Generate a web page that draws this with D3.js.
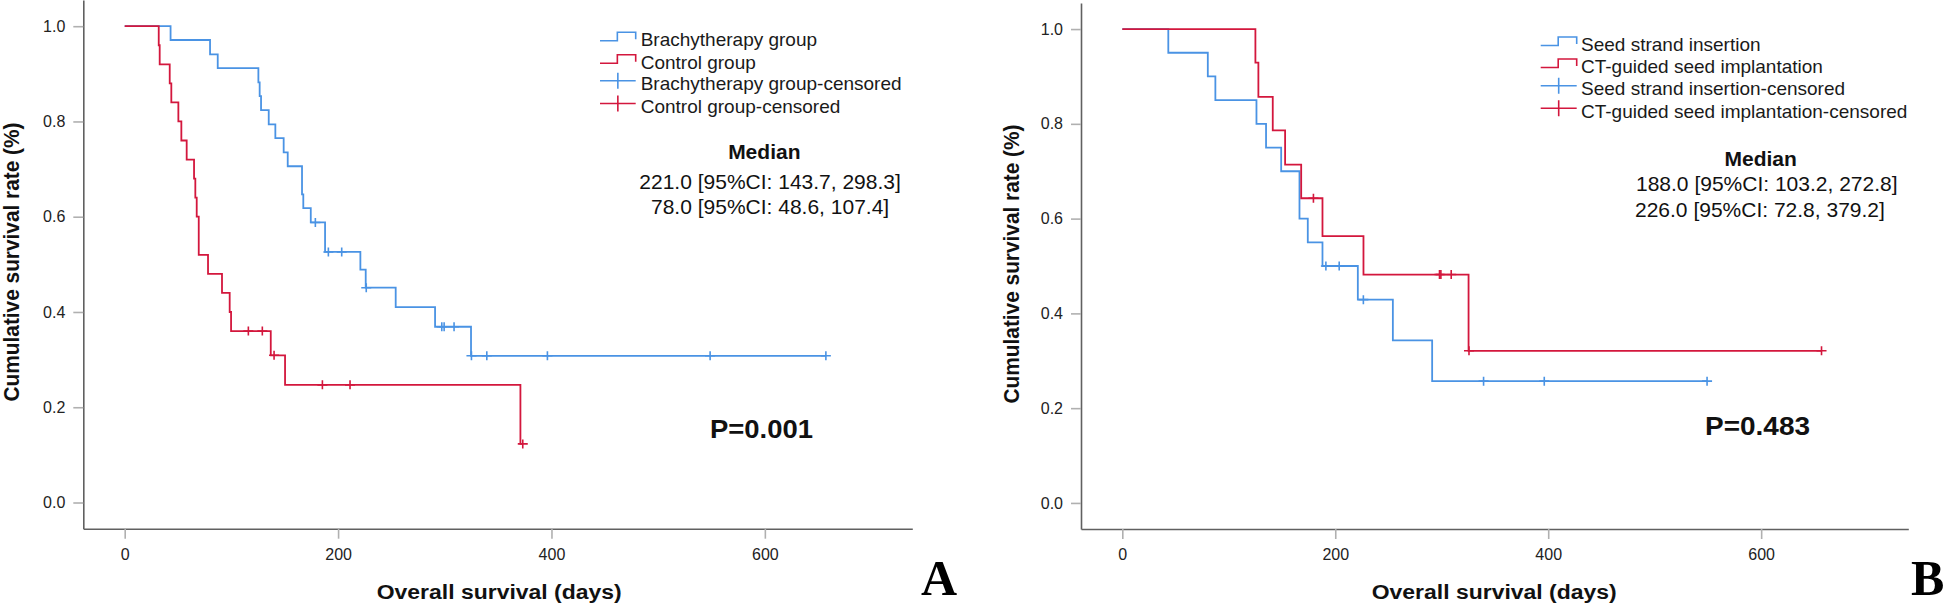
<!DOCTYPE html>
<html>
<head>
<meta charset="utf-8">
<script src="https://cdn.jsdelivr.net/npm/d3@7"></script>
<style>
  body { margin: 0; background: #fff; }
  svg { display: block; font-family: "Liberation Sans", Arial, sans-serif; }
</style>
</head>
<body>
<div id="chart"></div>
<script>
// Tick values
const xTicks = [0, 200, 400, 600];
const yTicks = [0, 0.2, 0.4, 0.6, 0.8, 1.0];

// Panel A: event times (days) and survival after each drop
const brachyTimes = [43, 80, 87.2, 125.3, 126.5, 127.8, 135, 141.2, 149, 152.8, 166.2, 167.4, 174.4, 187.8, 220.9, 225.9, 254, 290.9, 324.6];
const brachySurv = [0.971, 0.941, 0.912, 0.882, 0.853, 0.824, 0.794, 0.765, 0.735, 0.706, 0.647, 0.618, 0.588, 0.526, 0.489, 0.451, 0.410, 0.369, 0.308];
const brachyCensored = [178.7, 190.9, 203.4, 226.4, 297.2, 299.4, 308.7, 325, 339.4, 396.2, 548.7, 657.2];

const controlTimes = [31.9, 32.8, 42.2, 43.7, 50.3, 53.1, 58.1, 65, 66.2, 67.5, 69.4, 78.1, 91.2, 98.4, 99.7, 136.9, 150.3, 370.9];
const controlSurv = [0.96, 0.92, 0.88, 0.84, 0.80, 0.76, 0.72, 0.68, 0.64, 0.60, 0.52, 0.48, 0.44, 0.40, 0.36, 0.309, 0.247, 0.123];
const controlCensored = [115.9, 129, 140, 185.3, 211.2, 373.1];

// Panel B
const seedTimes = [43.2, 80.3, 87.4, 126, 135, 149.2, 166.4, 174.2, 188, 221.2, 254.1, 291];
const seedSurv = [0.95, 0.90, 0.85, 0.80, 0.75, 0.70, 0.60, 0.55, 0.50, 0.429, 0.343, 0.257];
const seedCensored = [191.2, 203.7, 226.4, 339.3, 396.3, 549.2];

const ctTimes = [125, 127.8, 141.3, 152.9, 168, 188, 226.5, 325.2];
const ctSurv = [0.929, 0.857, 0.786, 0.714, 0.643, 0.563, 0.482, 0.321];
const ctCensored = [179.5, 297.9, 299.2, 308.9, 325.6, 656.7];

const blue = "#4a93e4";
const red = "#d3173d";

const svg = d3.select("#chart")
    .append("svg")
    .attr("width", 1944)
    .attr("height", 606);

const panels = [
    {
        left: 83.3, right: 912.3, top: 0, bottom: 528.7,
        series: [
            { name: "Brachytherapy group", times: brachyTimes, surv: brachySurv, cens: brachyCensored, color: blue },
            { name: "Control group", times: controlTimes, surv: controlSurv, cens: controlCensored, color: red }
        ],
        legend: { x0: 600, x1: 635.7, tx: 640.7, rows: [39.3, 61.7, 83.3, 106] },
        medianTitle: { x: 764.3, y: 158.5 },
        medianLines: [
            { text: "221.0 [95%CI: 143.7, 298.3]", x: 639.3, y: 188.5 },
            { text: "78.0 [95%CI: 48.6, 107.4]", x: 651, y: 213.5 }
        ],
        p: { text: "P=0.001", x: 710, y: 438.3, len: 103 },
        xLabel: { x: 376.7, y: 599.3 },
        yLabel: { x: 19, y: 262 },
        letter: { text: "A", x: 921, y: 595 }
    },
    {
        left: 1081, right: 1908.3, top: 3, bottom: 529,
        series: [
            { name: "Seed strand insertion", times: seedTimes, surv: seedSurv, cens: seedCensored, color: blue },
            { name: "CT-guided seed implantation", times: ctTimes, surv: ctSurv, cens: ctCensored, color: red }
        ],
        legend: { x0: 1540.7, x1: 1576.7, tx: 1581, rows: [44, 66, 88.3, 110.7] },
        medianTitle: { x: 1760.7, y: 165.8 },
        medianLines: [
            { text: "188.0 [95%CI: 103.2, 272.8]", x: 1636, y: 190.8 },
            { text: "226.0 [95%CI: 72.8, 379.2]", x: 1635, y: 216.8 }
        ],
        p: { text: "P=0.483", x: 1705, y: 435, len: 105 },
        xLabel: { x: 1371.7, y: 599.3 },
        yLabel: { x: 1019, y: 264 },
        letter: { text: "B", x: 1911, y: 595 }
    }
];

panels.forEach(p => {
    const g = svg.append("g");

    const x = d3.scaleLinear().domain([-38.8, 738.2]).range([p.left, p.right]);
    const y = d3.scaleLinear().domain([-0.055, 1.055]).range([p.bottom, p.top]);

    // Axes
    const yAxis = g.append("g")
        .attr("transform", `translate(${p.left},0)`)
        .call(d3.axisLeft(y).tickValues(yTicks).tickFormat(d3.format(".1f")).tickSize(10).tickSizeOuter(0).tickPadding(8));
    const xAxis = g.append("g")
        .attr("transform", `translate(0,${p.bottom})`)
        .call(d3.axisBottom(x).tickValues(xTicks).tickSize(10).tickSizeOuter(0).tickPadding(9.5));
    [xAxis, yAxis].forEach(a => {
        a.attr("font-family", "Liberation Sans, Arial, sans-serif").attr("font-size", 16);
        a.select(".domain").attr("stroke", "#606060").attr("stroke-width", 1.6);
        a.selectAll(".tick line").attr("stroke", "#b0b0b0").attr("stroke-width", 1.6);
        a.selectAll(".tick text").attr("fill", "#222");
    });

    const step = d3.line()
        .x(d => x(d[0]))
        .y(d => y(d[1]))
        .curve(d3.curveStepAfter);

    p.series.forEach(s => {
        const pts = [[0, 1]];
        s.times.forEach((t, i) => pts.push([t, s.surv[i]]));
        const lastT = d3.max(s.cens.concat(s.times));
        pts.push([lastT, s.surv[s.surv.length - 1]]);

        g.append("path")
            .attr("d", step(pts))
            .attr("fill", "none")
            .attr("stroke", s.color)
            .attr("stroke-width", 1.8);

        const survAt = t => {
            let v = 1;
            s.times.forEach((tt, i) => { if (tt <= t) v = s.surv[i]; });
            return v;
        };

        // Censor marks
        g.selectAll(null)
            .data(s.cens)
            .enter()
            .append("path")
            .attr("d", d => `M${x(d) - 5},${y(survAt(d))}H${x(d) + 5}M${x(d)},${y(survAt(d)) - 4.5}V${y(survAt(d)) + 4.5}`)
            .attr("fill", "none")
            .attr("stroke", s.color)
            .attr("stroke-width", 1.6);
    });

    // Legend
    const L = p.legend;
    const xm = (L.x0 + L.x1) / 2;
    const items = [
        { label: p.series[0].name, color: p.series[0].color, type: "step" },
        { label: p.series[1].name, color: p.series[1].color, type: "step" },
        { label: p.series[0].name + "-censored", color: p.series[0].color, type: "cens" },
        { label: p.series[1].name + "-censored", color: p.series[1].color, type: "cens" }
    ];
    items.forEach((it, i) => {
        const c = L.rows[i];
        const d = it.type === "step"
            ? `M${L.x0},${c + 1.5}H${xm - 0.5}V${c - 7}H${L.x1}V${c}`
            : `M${L.x0},${c - 2.5}H${L.x1}M${xm},${c - 10.5}V${c + 5.5}`;
        g.append("path")
            .attr("d", d)
            .attr("fill", "none")
            .attr("stroke", it.color)
            .attr("stroke-width", 1.6);
        g.append("text")
            .attr("x", L.tx)
            .attr("y", c + 6.8)
            .attr("font-size", 19)
            .attr("fill", "#1a1a1a")
            .text(it.label);
    });

    // Median annotation
    g.append("text")
        .attr("x", p.medianTitle.x)
        .attr("y", p.medianTitle.y)
        .attr("text-anchor", "middle")
        .attr("font-size", 21)
        .attr("font-weight", "bold")
        .attr("fill", "#111")
        .text("Median");
    p.medianLines.forEach(m => {
        g.append("text")
            .attr("x", m.x)
            .attr("y", m.y)
            .attr("font-size", 21)
            .attr("fill", "#111")
            .text(m.text);
    });

    // P value
    g.append("text")
        .attr("x", p.p.x)
        .attr("y", p.p.y)
        .attr("font-size", 25)
        .attr("font-weight", "bold")
        .attr("fill", "#111")
        .attr("textLength", p.p.len)
        .attr("lengthAdjust", "spacingAndGlyphs")
        .text(p.p.text);

    // Axis labels
    g.append("text")
        .attr("x", p.xLabel.x)
        .attr("y", p.xLabel.y)
        .attr("font-size", 20)
        .attr("font-weight", "bold")
        .attr("fill", "#111")
        .attr("textLength", 245)
        .attr("lengthAdjust", "spacingAndGlyphs")
        .text("Overall survival (days)");

    g.append("text")
        .attr("transform", `translate(${p.yLabel.x},${p.yLabel.y}) rotate(-90)`)
        .attr("text-anchor", "middle")
        .attr("font-size", 22)
        .attr("font-weight", "bold")
        .attr("fill", "#111")
        .attr("textLength", 279)
        .attr("lengthAdjust", "spacingAndGlyphs")
        .text("Cumulative survival rate (%)");

    // Panel letter
    g.append("text")
        .attr("x", p.letter.x)
        .attr("y", p.letter.y)
        .attr("font-family", "Liberation Serif, Times New Roman, serif")
        .attr("font-size", 50)
        .attr("font-weight", "bold")
        .attr("fill", "#000")
        .text(p.letter.text);
});
</script>
</body>
</html>
